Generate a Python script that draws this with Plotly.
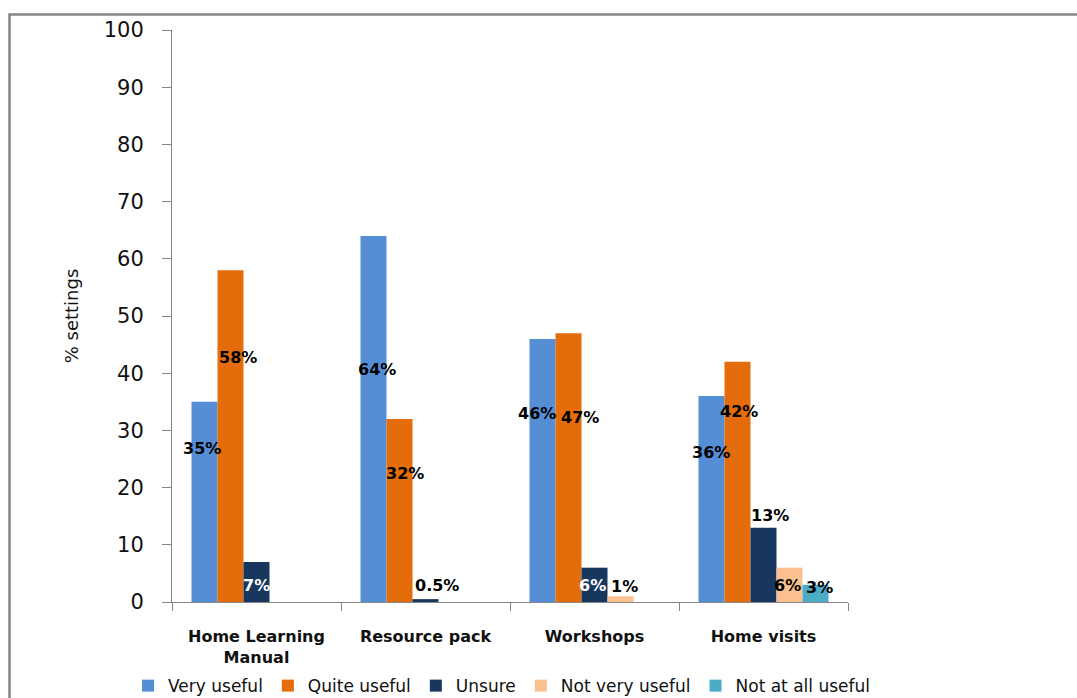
import plotly.graph_objects as go

# Usefulness ratings of each resource (% of settings)
categories = ["Home Learning<br>Manual", "Resource pack", "Workshops", "Home visits"]
series_names = ["Very useful", "Quite useful", "Unsure", "Not very useful", "Not at all useful"]

very_useful = [35, 64, 46, 36]
quite_useful = [58, 32, 47, 42]
unsure = [7, 0.5, 6, 13]
not_very_useful = [None, None, 1, 6]
not_at_all_useful = [None, None, None, 3]

series_values = [very_useful, quite_useful, unsure, not_very_useful, not_at_all_useful]
series_colors = ["#558ED5", "#E46C0A", "#17375E", "#FAC090", "#4BACC6"]

# Data-label placement (label height in axis units, horizontal nudge in px)
label_y = [
    [26.75, 40.73, 32.87, 26.1],
    [42.66, 22.38, 32.17, 33.27],
    [2.97, 2.85, 2.97, 15.09],
    [None, None, 2.67, 2.97],
    [None, None, None, 2.57],
]
label_dx = [
    [-2.5, 3, -6, -1],
    [7.5, 5.5, 11.5, 1.5],
    [0, 11, -2, 6],
    [0, 0, 4, -2.5],
    [0, 0, 0, 3.5],
]
label_colors = [
    ["black"] * 4,
    ["black"] * 4,
    ["white", "black", "white", "black"],
    ["black"] * 4,
    ["black"] * 4,
]

BARGAP = 0.2308
FONT = "DejaVu Sans"
GRAY = "#868686"
TEXT = "#111111"

fig = go.Figure()
for name, vals, color in zip(series_names, series_values, series_colors):
    fig.add_trace(go.Bar(
        name=name, x=categories, y=vals,
        marker=dict(color=color, line=dict(width=0)),
    ))

n = len(series_names)
bar_w = (1 - BARGAP) / n
annotations = []
for i, vals in enumerate(series_values):
    for j, v in enumerate(vals):
        if v is None:
            continue
        annotations.append(dict(
            x=j + (i - (n - 1) / 2) * bar_w, y=label_y[i][j],
            xref="x", yref="y",
            text=f"{v:g}%", showarrow=False,
            xanchor="center", yanchor="middle",
            xshift=label_dx[i][j],
            font=dict(family=FONT, size=16, color=label_colors[i][j], weight="bold"),
        ))

fig.update_layout(
    width=1077, height=698,
    margin=dict(l=172, r=229, t=30, b=96, autoexpand=False),
    paper_bgcolor="white", plot_bgcolor="white",
    barmode="group", bargap=BARGAP, bargroupgap=0,
    font=dict(family=FONT, color=TEXT),
    annotations=annotations,
    showlegend=True,
    legend=dict(
        orientation="h",
        xref="paper", x=-0.065, xanchor="left",
        yref="paper", y=-0.147, yanchor="middle",
        font=dict(family=FONT, size=17, color=TEXT),
        bgcolor="rgba(0,0,0,0)",
        itemwidth=30,
    ),
    shapes=[dict(
        type="rect", xref="paper", yref="paper",
        x0=-0.2404, x1=1.5, y0=-0.3, y1=1.0271,
        line=dict(color=GRAY, width=2.5), fillcolor="rgba(0,0,0,0)",
        layer="below",
    )],
)

fig.update_yaxes(
    range=[0, 100], dtick=10, tick0=0,
    ticks="outside", ticklen=9, tickcolor=GRAY, tickwidth=1,
    showline=True, linecolor=GRAY, linewidth=1,
    showgrid=False, zeroline=False,
    tickfont=dict(family=FONT, size=21, color=TEXT),
    ticklabelstandoff=14,
    title=dict(text="% settings", font=dict(family=FONT, size=18, color=TEXT), standoff=20),
)
fig.update_xaxes(
    type="category",
    ticks="outside", tickson="boundaries", ticklen=8, tickcolor=GRAY, tickwidth=1,
    showline=True, linecolor=GRAY, linewidth=1,
    showgrid=False, zeroline=False,
    tickfont=dict(family=FONT, size=16, color=TEXT, weight="bold"),
    ticklabelstandoff=20,
)

fig.write_html("out.html")
